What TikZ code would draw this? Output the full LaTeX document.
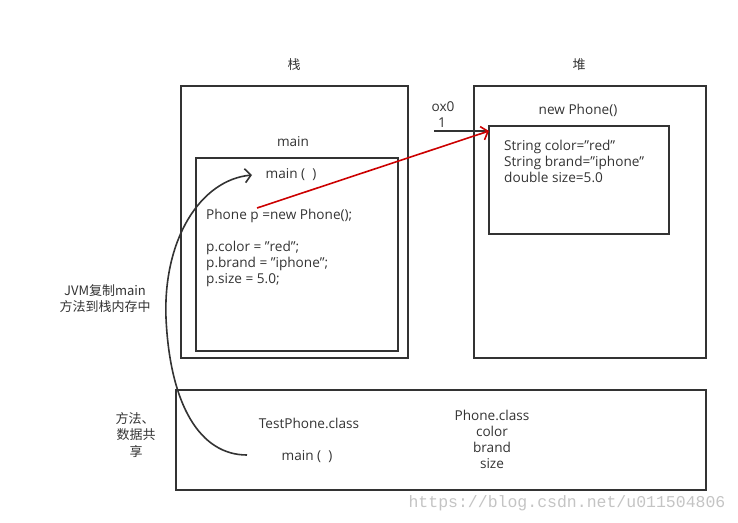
\documentclass[tikz,border=0pt]{standalone}
\usepackage{fontspec}
\setmainfont{Open Sans}
\newfontfamily\cjk{Noto Sans CJK SC}
\newfontfamily\wmfont{Liberation Mono}
\usetikzlibrary{arrows.meta}
\definecolor{ink}{HTML}{333333}
\definecolor{redline}{HTML}{CC0000}
\definecolor{wmgray}{HTML}{C4C4C4}
\begin{document}
\begin{tikzpicture}[x=1pt,y=-1pt,
  box/.style={draw=ink,line width=1.6pt,inner sep=0pt,outer sep=0pt},
  txt/.style={inner sep=0pt,font=\fontsize{13.6}{15}\selectfont,text=ink,anchor=base},
  ltxt/.style={txt,anchor=base west},
  ctxt/.style={txt,font=\cjk\fontsize{13}{15}\selectfont},
  conn/.style={ink,line width=1.6pt},
  barb/.style={-{Straight Barb[length=6pt,width=14pt,line width=1.6pt]}}]
\useasboundingbox (0,0) rectangle (738,522);
% boxes
\node[box,minimum width=227pt,minimum height=272pt] (stack) at (294.5,222) {};
\node[box,minimum width=202pt,minimum height=193pt] (stackin) at (297,254.5) {};
\node[box,minimum width=232pt,minimum height=272pt] (heap) at (590,222) {};
\node[box,minimum width=180pt,minimum height=108pt] (heapin) at (579,180) {};
\node[box,minimum width=530pt,minimum height=100pt] (method) at (441,440) {};
% headings
\node[ctxt] (zhan) at (294,69) {栈};
\node[ctxt] (dui) at (579,69) {堆};
\node[txt] (mainlbl) at (293,146) {main};
\node[txt] (mainm) at (291,178) {main (\ \ )};
\node[ltxt] (l1) at (206,219) {Phone p =new Phone();};
\node[ltxt] (l2) at (206,251) {p.color = "red";};
\node[ltxt] (l3) at (206,267) {p.brand = "iphone";};
\node[ltxt] (l4) at (206,283) {p.size = 5.0;};
% heap texts
\node[txt] (newp) at (578,114) {new Phone()};
\node[ltxt] (h1) at (504,150) {String color="red"};
\node[ltxt] (h2) at (504,166) {String brand="iphone"};
\node[ltxt] (h3) at (504,182) {double size=5.0};
\node[txt] (ox) at (443,111) {ox0};
\node[txt] (one) at (442,127) {1};
% method area
\node[txt] (tpc) at (309,428) {TestPhone.class};
\node[txt] (mainb) at (307,460) {main (\ \ )};
\node[txt] (pc) at (492,420) {Phone.class};
\node[txt] (pc1) at (492,436) {color};
\node[txt] (pc2) at (492,452) {brand};
\node[txt] (pc3) at (492,468) {size};
% left notes
\node[ctxt] (jvm1) at (105,295) {JVM复制main};
\node[ctxt] (jvm2) at (105,311) {方法到栈内存中};
\node[ctxt] (sh1) at (135,423) {方法、};
\node[ctxt] (sh2) at (136,439) {数据共};
\node[ctxt] (sh3) at (136,456) {享};
% watermark
\node[inner sep=0pt,text=wmgray,font=\wmfont\fontsize{16.5}{18}\selectfont,anchor=base] (wm) at (567,507) {https://blog.csdn.net/u011504806};
% connectors
\coordinate (cs) at (247,455);
\coordinate (cm) at (166,318);
\coordinate (ct) at (252,175);
\draw[conn,barb] (cs) .. controls (200,455) and (170,405) .. (cm)
  .. controls (163,240) and (200,180) .. (ct);
\coordinate (ra) at (257,208);
\coordinate (rt) at (489,131);
\coordinate (ol) at (434,131);
\draw[conn] (ol) -- (rt);
\draw[redline,line width=1.6pt,-{Straight Barb[length=6pt,width=14pt,line width=1.6pt]}] (ra) -- (rt);
\end{tikzpicture}
\end{document}
